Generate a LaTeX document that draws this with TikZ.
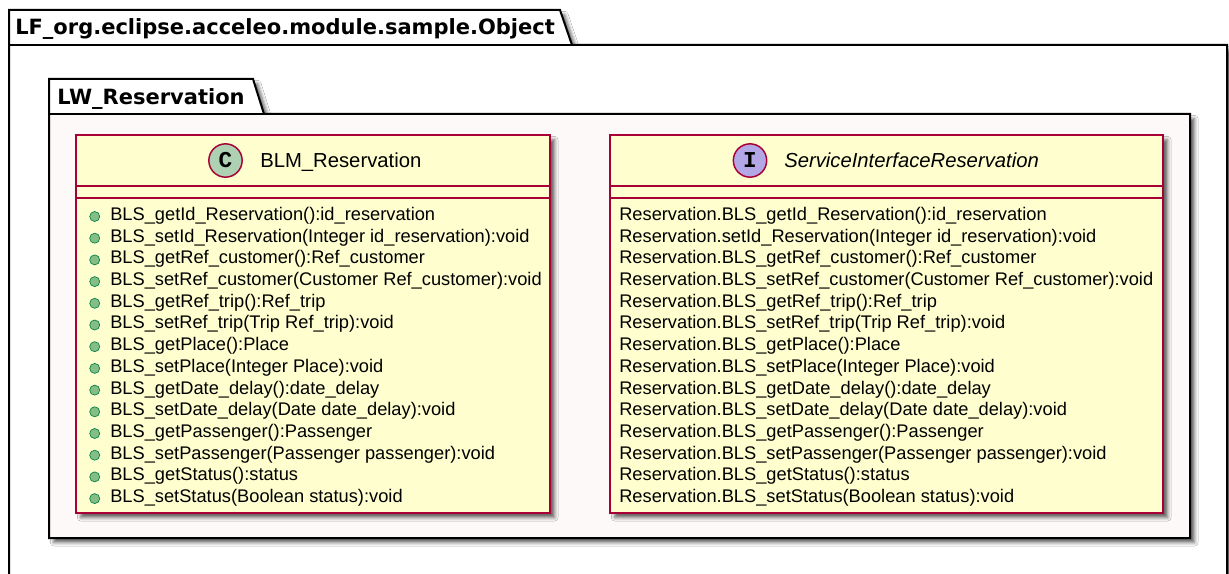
\documentclass[tikz,border=0pt]{standalone}
\usepackage{fontspec}
\setmainfont{Liberation Sans}
\newfontfamily\titlefont{DejaVu Sans}
\newfontfamily\spotfont{Liberation Mono}
\usetikzlibrary{shadows.blur}

\definecolor{classfill}{HTML}{FEFECE}
\definecolor{classline}{HTML}{A80036}
\definecolor{pkgbody}{HTML}{FDF9F9}
\definecolor{classspot}{HTML}{ADD1B2}
\definecolor{ifacespot}{HTML}{B4A7E5}
\definecolor{methodfill}{HTML}{84BE84}
\definecolor{methodline}{HTML}{038048}

\tikzset{
  softshadow/.style={blur shadow={shadow xshift=3.5pt, shadow yshift=-3.5pt,
      shadow blur radius=2.5pt, shadow opacity=60}},
  pkgline/.style={draw=black, line width=1.5pt, line join=miter},
  classbox/.style={draw=classline, line width=1.1pt, fill=classfill},
  pkgtitle/.style={inner sep=0pt, anchor=base west,
      font=\titlefont\bfseries\fontsize{15.75pt}{18pt}\selectfont},
  classtitle/.style={inner sep=0pt, anchor=base west,
      font=\fontsize{15.2pt}{18pt}\selectfont},
  member/.style={inner sep=0pt, anchor=base west,
      font=\fontsize{13.7pt}{16pt}\selectfont},
  spot/.style={circle, draw=classline, line width=1.1pt, inner sep=0pt,
      minimum size=25pt, font=\spotfont\bfseries\fontsize{17pt}{17pt}\selectfont},
  bullet/.style={circle, draw=methodline, fill=methodfill, line width=0.5pt,
      inner sep=0pt, minimum size=7.5pt},
}

\begin{document}
\begin{tikzpicture}[x=0.75pt, y=-0.75pt]
\useasboundingbox (0,0) rectangle (1229,574);
\fill[white] (0,0) rectangle (1229,574);

% outer package LF_org.eclipse.acceleo.module.sample.Object
\path[softshadow, fill=white]
  (9,45) -- (9,10) -- (560,10) -- (572,45) -- (1227,45) -- (1227,640) -- (9,640) -- cycle;
\draw[pkgline]
  (9,45) -- (9,10) -- (560,10) -- (572,45) -- (1227,45) -- (1227,640) -- (9,640) -- cycle;
\draw[pkgline] (9,45) -- (572,45);
\node[pkgtitle] (outertitle) at (15,35) {LF\_org.eclipse.acceleo.module.sample.Object};

% inner package LW_Reservation
\path[softshadow, fill=white]
  (49,114) -- (49,79) -- (253,79) -- (264,114) -- (1190,114) -- (1190,538) -- (49,538) -- cycle;
\fill[white] (49,114) -- (49,79) -- (253,79) -- (264,114) -- cycle;
\fill[pkgbody] (49,114) rectangle (1190,538);
\draw[pkgline]
  (49,114) -- (49,79) -- (253,79) -- (264,114) -- (1190,114) -- (1190,538) -- (49,538) -- cycle;
\draw[pkgline] (49,114) -- (264,114);
\node[pkgtitle] (innertitle) at (57,104.5) {LW\_Reservation};

% class BLM_Reservation
\path[classbox, softshadow] (76,135) rectangle (550,513);
\draw[classline, line width=1.1pt] (76,186) -- (550,186);
\draw[classline, line width=1.1pt] (76,198) -- (550,198);
\node[spot, fill=classspot] (cspot) at (225.5,160.5) {C};
\node[classtitle] (cname) at (260,167.5) {BLM\_Reservation};
\foreach \txt [count=\i] in {
  BLS\_getId\_Reservation():id\_reservation,
  BLS\_setId\_Reservation(Integer id\_reservation):void,
  BLS\_getRef\_customer():Ref\_customer,
  BLS\_setRef\_customer(Customer Ref\_customer):void,
  BLS\_getRef\_trip():Ref\_trip,
  BLS\_setRef\_trip(Trip Ref\_trip):void,
  BLS\_getPlace():Place,
  BLS\_setPlace(Integer Place):void,
  BLS\_getDate\_delay():date\_delay,
  BLS\_setDate\_delay(Date date\_delay):void,
  BLS\_getPassenger():Passenger,
  BLS\_setPassenger(Passenger passenger):void,
  BLS\_getStatus():status,
  BLS\_setStatus(Boolean status):void}
{
  \node[bullet] (cb\i) at (94.7,{220.5+(\i-1)*21.7-4}) {};
  \node[member] (cm\i) at (110,{220.5+(\i-1)*21.7}) {\txt};
}

% interface ServiceInterfaceReservation
\path[classbox, softshadow] (610,135) rectangle (1163,513);
\draw[classline, line width=1.1pt] (610,186) -- (1163,186);
\draw[classline, line width=1.1pt] (610,198) -- (1163,198);
\node[spot, fill=ifacespot] (ispot) at (750,160.5) {I};
\node[classtitle, font=\itshape\fontsize{15.2pt}{18pt}\selectfont] (iname) at (784,167.5) {ServiceInterfaceReservation};
\foreach \txt [count=\i] in {
  Reservation.BLS\_getId\_Reservation():id\_reservation,
  Reservation.setId\_Reservation(Integer id\_reservation):void,
  Reservation.BLS\_getRef\_customer():Ref\_customer,
  Reservation.BLS\_setRef\_customer(Customer Ref\_customer):void,
  Reservation.BLS\_getRef\_trip():Ref\_trip,
  Reservation.BLS\_setRef\_trip(Trip Ref\_trip):void,
  Reservation.BLS\_getPlace():Place,
  Reservation.BLS\_setPlace(Integer Place):void,
  Reservation.BLS\_getDate\_delay():date\_delay,
  Reservation.BLS\_setDate\_delay(Date date\_delay):void,
  Reservation.BLS\_getPassenger():Passenger,
  Reservation.BLS\_setPassenger(Passenger passenger):void,
  Reservation.BLS\_getStatus():status,
  Reservation.BLS\_setStatus(Boolean status):void}
{
  \node[member] (im\i) at (619,{220.5+(\i-1)*21.7}) {\txt};
}
\end{tikzpicture}
\end{document}
